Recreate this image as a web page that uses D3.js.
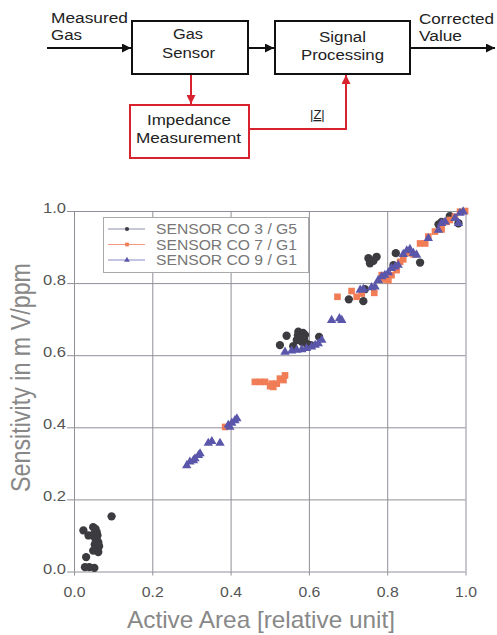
<!DOCTYPE html>
<html><head><meta charset="utf-8">
<script src="https://cdn.jsdelivr.net/npm/d3@7"></script>
<style>
html,body{margin:0;padding:0;background:#fff;}
svg{display:block;font-family:"Liberation Sans",Arial,sans-serif;}
</style></head>
<body><svg id="c" width="497" height="635"></svg>
<script>
// ---- data ----
const ticks = [0, 0.2, 0.4, 0.6, 0.8, 1.0];
const tickLabels = ["0.0","0.2","0.4","0.6","0.8","1.0"];
const seriesNames = ["SENSOR CO 3 / G5","SENSOR CO 7 / G1","SENSOR CO 9 / G1"];
const co3 = [[0.096,0.153],[0.024,0.114],[0.049,0.123],[0.058,0.109],[0.037,0.100],[0.054,0.092],[0.062,0.081],[0.056,0.068],[0.062,0.054],[0.049,0.058],[0.031,0.040],[0.028,0.012],[0.039,0.012],[0.052,0.010],[0.055,0.118],[0.060,0.100],[0.053,0.075],[0.058,0.088],[0.064,0.070],[0.051,0.104],
 [0.543,0.654],[0.526,0.628],[0.560,0.625],[0.626,0.651],[0.605,0.628],[0.577,0.651],[0.573,0.665],[0.590,0.656],[0.582,0.637],[0.569,0.642],[0.594,0.632],[0.585,0.662],[0.580,0.645],[0.572,0.655],[0.588,0.645],
 [0.702,0.755],[0.739,0.750],[0.743,0.783],
 [0.752,0.869],[0.773,0.873],[0.756,0.855],[0.765,0.862],[0.822,0.883],[0.816,0.850],[0.884,0.857],[0.931,0.963],[0.939,0.970],[0.960,0.986],[0.982,0.966]];
const co7 = [[0.386,0.401],
 [0.462,0.526],[0.475,0.526],[0.488,0.526],[0.501,0.514],[0.505,0.521],[0.509,0.512],[0.518,0.521],[0.526,0.535],[0.535,0.531],[0.539,0.544],
 [0.673,0.762],[0.709,0.778],[0.722,0.762],[0.735,0.771],[0.767,0.773],[0.786,0.822],[0.790,0.810],[0.803,0.808],[0.811,0.822],[0.824,0.836],[0.833,0.859],[0.841,0.866],[0.850,0.883],[0.867,0.880],[0.884,0.910],[0.897,0.910],[0.905,0.929],[0.922,0.943],[0.939,0.949],[0.952,0.970],[0.960,0.975],[0.973,0.984],[0.986,0.998],[0.999,1.0]];
const co9 = [[0.288,0.294],[0.296,0.304],[0.305,0.308],[0.309,0.313],[0.318,0.322],[0.322,0.327],[0.343,0.356],[0.352,0.361],[0.373,0.356],[0.394,0.406],[0.398,0.401],[0.403,0.412],[0.411,0.419],[0.416,0.424],
 [0.539,0.609],[0.556,0.612],[0.569,0.614],[0.582,0.616],[0.594,0.619],[0.607,0.623],[0.616,0.628],[0.624,0.632],[0.633,0.642],
 [0.658,0.697],[0.678,0.702],[0.684,0.697],
 [0.731,0.781],[0.739,0.783],[0.760,0.788],[0.769,0.790],[0.777,0.808],[0.786,0.818],[0.794,0.822],[0.803,0.829],[0.811,0.841],[0.820,0.845],[0.828,0.850],[0.841,0.880],[0.850,0.890],[0.858,0.894],[0.867,0.883],[0.875,0.878],[0.905,0.924],[0.931,0.947],[0.939,0.966],[0.948,0.970],[0.973,0.980],[0.982,0.966],[0.986,0.994],[0.994,0.998]];

const svg = d3.select("#c");
function fit(sel, w){ sel.attr("textLength", w).attr("lengthAdjust","spacingAndGlyphs"); return sel; }

// ---- block diagram ----
const defs = svg.append("defs");
function mk(id,color){
  defs.append("marker").attr("id",id).attr("viewBox","0 0 10 10").attr("refX",10).attr("refY",5)
    .attr("markerWidth",10).attr("markerHeight",9).attr("markerUnits","userSpaceOnUse").attr("orient","auto")
    .append("path").attr("d","M0,0L10,5L0,10Z").attr("fill",color);
}
const RED = "#d8222e";
mk("ab","#111"); mk("ar",RED);
const dg = svg.append("g");
dg.append("rect").attr("x",132).attr("y",21).attr("width",116).attr("height",53).attr("fill","none").attr("stroke","#111").attr("stroke-width",2);
dg.append("rect").attr("x",275).attr("y",21).attr("width",135).attr("height",53).attr("fill","none").attr("stroke","#111").attr("stroke-width",2);
dg.append("rect").attr("x",130).attr("y",105).attr("width",119).attr("height",53).attr("fill","none").attr("stroke",RED).attr("stroke-width",2);
function line(pts,color,m){ dg.append("path").attr("d",d3.line()(pts)).attr("fill","none").attr("stroke",color).attr("stroke-width",2).attr("marker-end","url(#"+m+")"); }
line([[47,48],[131,48]],"#111","ab");
line([[248,48],[274,48]],"#111","ab");
line([[410,48],[495,48]],"#111","ab");
line([[191,75],[191,104]],RED,"ar");
line([[249,129],[346,129],[346,75]],RED,"ar");
function dt(t,x,y,w,anchor){ return fit(dg.append("text").attr("x",x).attr("y",y).attr("text-anchor",anchor||"start").attr("font-size",14).attr("fill","#222").text(t), w); }
dt("Measured",51,22.5,77); dt("Gas",51,40,31);
dt("Gas",188,39,30,"middle"); dt("Sensor",188.5,57.5,53,"middle");
dt("Signal",342.5,41.5,47,"middle"); dt("Processing",342.5,60,83,"middle");
dt("Corrected",419,24,75); dt("Value",419,41,43);
dt("Impedance",189,125,84,"middle"); dt("Measurement",188.5,142.5,105,"middle");
const zt = dg.append("text").attr("x",310).attr("y",119).attr("font-size",13).attr("fill","#222");
zt.append("tspan").text("|"); zt.append("tspan").attr("text-decoration","underline").text("Z"); zt.append("tspan").text("|");

// ---- scatter plot ----
const x = d3.scaleLinear().domain([0,1]).range([74,465.5]);
const y = d3.scaleLinear().domain([0,1]).range([571.5,211]);
const W = x(1)-x(0), H = y(0)-y(1);
const GRID = "#8f8f98";

// grid
svg.append("g").attr("transform",`translate(${x(0)},0)`)
  .call(d3.axisLeft(y).tickValues(ticks).tickSize(-W).tickFormat(""))
  .call(g=>{g.select(".domain").remove(); g.selectAll("line").attr("stroke",GRID).attr("stroke-width",1);});
svg.append("g").attr("transform",`translate(0,${y(0)})`)
  .call(d3.axisBottom(x).tickValues(ticks).tickSize(-H).tickFormat(""))
  .call(g=>{g.select(".domain").remove(); g.selectAll("line").attr("stroke",GRID).attr("stroke-width",1);});

// axes with labels
const yAx = svg.append("g").attr("transform",`translate(${x(0)},0)`)
  .call(d3.axisLeft(y).tickValues(ticks).tickSize(7).tickPadding(1).tickFormat((d,i)=>tickLabels[i]));
yAx.select(".domain").remove();
yAx.selectAll("line").attr("stroke",GRID);
yAx.selectAll("text").attr("font-size",15).attr("fill","#555").attr("dy","0.1em").attr("font-family","Liberation Sans, Arial, sans-serif");
fit(yAx.selectAll("text"),23);

const xAx = svg.append("g").attr("transform",`translate(0,${y(0)})`)
  .call(d3.axisBottom(x).tickValues(ticks).tickSize(4).tickPadding(11).tickFormat((d,i)=>tickLabels[i]));
xAx.select(".domain").remove();
xAx.selectAll("line").attr("stroke",GRID);
xAx.selectAll("text").attr("font-size",15).attr("fill","#555").attr("font-family","Liberation Sans, Arial, sans-serif");
fit(xAx.selectAll("text"),22);

// titles
fit(svg.append("text").attr("x",261).attr("y",628).attr("text-anchor","middle").attr("font-size",24).attr("fill","#888").text("Active Area [relative unit]"),268);
fit(svg.append("text").attr("transform","translate(30,377.5) rotate(-90)").attr("text-anchor","middle").attr("font-size",27).attr("fill","#888").text("Sensitivity in m V/ppm"),229);

// points
const colors = ["#3c3c40","#f07d56","#5a56aa"];
const symbols = [d3.symbol().type(d3.symbolCircle).size(54), d3.symbol().type(d3.symbolSquare).size(44), d3.symbol().type(d3.symbolTriangle).size(38)];
[co3,co7,co9].forEach((data,i)=>{
  svg.append("g").selectAll("path").data(data).join("path")
    .attr("transform",d=>`translate(${x(d[0])},${y(d[1])})`)
    .attr("d",symbols[i]()).attr("fill",colors[i]);
});

// legend
const lg = svg.append("g");
lg.append("rect").attr("x",103.5).attr("y",217.5).attr("width",205).attr("height",55).attr("fill","#fff").attr("stroke","#aaa").attr("stroke-width",1);
const legLine = ["#8a8fae","#f59a80","#8a88c8"];
const rowsY = [229,244.5,260];
seriesNames.forEach((n,i)=>{
  lg.append("line").attr("x1",108).attr("x2",145).attr("y1",rowsY[i]).attr("y2",rowsY[i]).attr("stroke",legLine[i]).attr("stroke-width",1);
  lg.append("path").attr("transform",`translate(127,${rowsY[i]})`).attr("d",d3.symbol().type([d3.symbolCircle,d3.symbolSquare,d3.symbolTriangle][i]).size(14)()).attr("fill",colors[i]);
  fit(lg.append("text").attr("x",156).attr("y",rowsY[i]+5).attr("font-size",14).attr("fill","#777").text(n),141);
});
</script></body></html>
